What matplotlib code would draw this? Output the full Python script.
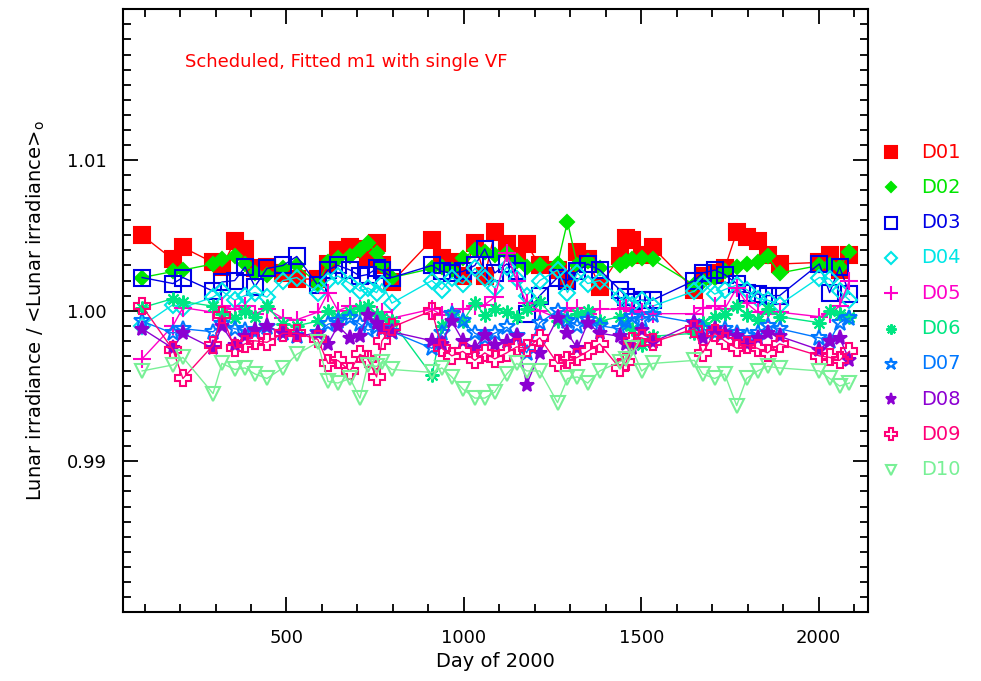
import matplotlib
matplotlib.use('Agg')
import matplotlib.pyplot as plt
from matplotlib.lines import Line2D
from matplotlib.ticker import MultipleLocator, FixedLocator, FormatStrFormatter

# observation days (shared by all detectors)
days = [93, 180, 208, 293, 318, 354, 383, 411, 445, 490,
        529, 588, 617, 645, 679, 707, 729, 754, 769, 797,
        910, 938, 966, 997, 1031, 1059, 1087, 1121, 1149, 1177,
        1214, 1264, 1292, 1320, 1349, 1383, 1439, 1458, 1473, 1501,
        1532, 1650, 1673, 1707, 1735, 1769, 1797, 1828, 1856, 1890,
        2002, 2031, 2059, 2087]

d01 = [1.0050, 1.0034, 1.0042, 1.0032, 1.0029, 1.0046, 1.0041, 1.0028, 1.0029, 1.0025,
       1.0021, 1.0021, 1.0031, 1.0040, 1.0042, 1.0041, 1.0035, 1.0045, 1.0030, 1.0019,
       1.0047, 1.0035, 1.0032, 1.0023, 1.0045, 1.0023, 1.0052, 1.0044, 1.0036, 1.0044,
       1.0030, 1.0027, 1.0021, 1.0039, 1.0034, 1.0016, 1.0036, 1.0048, 1.0047, 1.0037,
       1.0042, 1.0014, 1.0023, 1.0025, 1.0028, 1.0052, 1.0049, 1.0046, 1.0037, 1.0031,
       1.0032, 1.0037, 1.0027, 1.0037]
d02 = [1.0022, 1.0026, 1.0027, 1.0031, 1.0034, 1.0036, 1.0031, 1.0025, 1.0024, 1.0028,
       1.0030, 1.0018, 1.0032, 1.0035, 1.0036, 1.0040, 1.0045, 1.0038, 1.0030, 1.0022,
       1.0028, 1.0029, 1.0027, 1.0035, 1.0040, 1.0039, 1.0037, 1.0038, 1.0033, 1.0029,
       1.0030, 1.0031, 1.0059, 1.0030, 1.0033, 1.0028, 1.0030, 1.0033, 1.0034, 1.0035,
       1.0034, 1.0017, 1.0020, 1.0022, 1.0026, 1.0029, 1.0031, 1.0032, 1.0036, 1.0025,
       1.0030, 1.0030, 1.0029, 1.0039]
d03 = [1.0022, 1.0018, 1.0022, 1.0013, 1.0019, 1.0020, 1.0029, 1.0016, 1.0028, 1.0030,
       1.0036, 1.0017, 1.0027, 1.0030, 1.0027, 1.0023, 1.0024, 1.0028, 1.0027, 1.0022,
       1.0030, 1.0026, 1.0025, 1.0026, 1.0030, 1.0041, 1.0025, 1.0031, 1.0026, 0.9998,
       1.0010, 1.0022, 1.0020, 1.0026, 1.0031, 1.0027, 1.0014, 1.0009, 1.0006, 1.0007,
       1.0007, 1.0020, 1.0025, 1.0027, 1.0024, 1.0018, 1.0012, 1.0011, 1.0010, 1.0010,
       1.0031, 1.0012, 1.0029, 1.0011]
d04 = [0.9990, 1.0004, 1.0002, 1.0009, 1.0013, 1.0007, 1.0010, 1.0012, 1.0009, 1.0020,
       1.0022, 1.0012, 1.0020, 1.0023, 1.0018, 1.0013, 1.0015, 1.0012, 1.0018, 1.0005,
       1.0020, 1.0014, 1.0022, 1.0018, 1.0028, 1.0022, 1.0015, 1.0029, 1.0021, 1.0010,
       1.0020, 1.0027, 1.0012, 1.0025, 1.0018, 1.0020, 1.0009, 1.0005, 1.0004, 1.0007,
       1.0003, 1.0013, 1.0018, 1.0011, 1.0014, 1.0017, 1.0014, 1.0008, 1.0007, 1.0004,
       1.0022, 1.0021, 1.0013, 1.0007]
d05 = [0.9968, 0.9990, 1.0002, 0.9999, 1.0003, 1.0001, 1.0003, 0.9998, 1.0001, 0.9995,
       0.9994, 0.9999, 1.0012, 1.0000, 1.0003, 1.0001, 0.9999, 0.9997, 0.9999, 0.9995,
       1.0001, 0.9997, 0.9999, 1.0001, 1.0003, 1.0004, 1.0009, 1.0038, 1.0020, 1.0005,
       1.0000, 0.9995, 1.0000, 1.0002, 0.9998, 1.0001, 1.0001, 1.0002, 1.0000, 0.9999,
       0.9998, 0.9998, 1.0002, 1.0003, 1.0001, 1.0015, 1.0005, 0.9999, 0.9998, 0.9999,
       0.9996, 0.9998, 1.0003, 1.0020]
d06 = [1.0002, 1.0008, 1.0006, 1.0003, 0.9998, 0.9995, 1.0000, 0.9996, 1.0003, 0.9991,
       0.9990, 0.9993, 1.0000, 0.9996, 0.9999, 1.0002, 1.0003, 0.9997, 0.9995, 0.9993,
       0.9957, 0.9990, 0.9998, 0.9993, 1.0005, 0.9997, 1.0001, 0.9999, 0.9996, 1.0001,
       1.0006, 0.9993, 0.9995, 0.9998, 1.0000, 0.9993, 0.9996, 0.9991, 0.9988, 0.9977,
       0.9983, 0.9985, 0.9992, 0.9996, 0.9998, 1.0003, 0.9997, 0.9994, 1.0001, 0.9996,
       0.9992, 1.0000, 0.9998, 0.9996]
d07 = [0.9993, 0.9985, 0.9988, 0.9986, 0.9991, 0.9988, 0.9987, 0.9986, 0.9989, 0.9985,
       0.9983, 0.9985, 0.9991, 0.9993, 0.9995, 0.9991, 0.9987, 0.9989, 0.9988, 0.9986,
       0.9975, 0.9985, 0.9998, 0.9993, 0.9985, 0.9982, 0.9985, 0.9989, 0.9983, 0.9972,
       0.9992, 1.0000, 0.9993, 0.9990, 0.9994, 0.9990, 0.9988, 0.9993, 0.9996, 0.9994,
       0.9997, 0.9992, 0.9988, 0.9985, 0.9988, 0.9985, 0.9983, 0.9985, 0.9990, 0.9988,
       0.9982, 0.9980, 0.9992, 0.9995]
d08 = [0.9988, 0.9975, 0.9985, 0.9975, 0.9990, 0.9977, 0.9983, 0.9987, 0.9990, 0.9985,
       0.9983, 0.9985, 0.9978, 0.9990, 0.9982, 0.9983, 0.9997, 0.9992, 0.9988, 0.9986,
       0.9980, 0.9978, 0.9993, 0.9980, 0.9975, 0.9984, 0.9977, 0.9979, 0.9983, 0.9951,
       0.9972, 0.9995, 0.9985, 0.9975, 0.9992, 0.9985, 0.9983, 0.9978, 0.9975, 0.9987,
       0.9979, 0.9992, 0.9982, 0.9988, 0.9985, 0.9983, 0.9978, 0.9982, 0.9985, 0.9983,
       0.9974, 0.9980, 0.9982, 0.9967]
d09 = [1.0003, 0.9974, 0.9955, 0.9977, 0.9997, 0.9975, 0.9978, 0.9980, 0.9979, 0.9985,
       0.9985, 0.9981, 0.9965, 0.9967, 0.9960, 0.9971, 0.9968, 0.9956, 0.9980, 0.9989,
       1.0000, 0.9975, 0.9970, 0.9973, 0.9967, 0.9972, 0.9968, 0.9972, 0.9976, 0.9975,
       0.9982, 0.9965, 0.9967, 0.9969, 0.9973, 0.9978, 0.9962, 0.9966, 0.9980, 0.9982,
       0.9979, 0.9988, 0.9972, 0.9985, 0.9980, 0.9975, 0.9977, 0.9975, 0.9972, 0.9978,
       0.9970, 0.9969, 0.9967, 0.9973]
d10 = [0.9960, 0.9964, 0.9969, 0.9945, 0.9965, 0.9961, 0.9962, 0.9958, 0.9955, 0.9962,
       0.9971, 0.9979, 0.9953, 0.9952, 0.9955, 0.9942, 0.9964, 0.9963, 0.9966, 0.9961,
       0.9959, 0.9962, 0.9956, 0.9948, 0.9942, 0.9942, 0.9946, 0.9958, 0.9965, 0.9960,
       0.9960, 0.9939, 0.9955, 0.9956, 0.9952, 0.9960, 0.9966, 0.9968, 0.9975, 0.9960,
       0.9965, 0.9967, 0.9958, 0.9955, 0.9958, 0.9937, 0.9955, 0.9960, 0.9963, 0.9962,
       0.9960, 0.9955, 0.9950, 0.9952]

labels = ['D01', 'D02', 'D03', 'D04', 'D05', 'D06', 'D07', 'D08', 'D09', 'D10']
series = [d01, d02, d03, d04, d05, d06, d07, d08, d09, d10]

# style per detector: colour, marker, size, filled
colors = ['#ff0000', '#00e600', '#0000e6', '#00e6e6', '#ff00c8',
          '#00e682', '#0078ff', '#8c00d2', '#ff0078', '#78f096']
markers = ['s', 'D', 's', 'D', '+', (8, 2, 0), '*', '*', 'P', 'v']
msizes = [12, 7, 11, 8, 13, 10, 12, 11, 11, 10]
filled = [True, True, False, False, True, True, False, True, False, False]

fig = plt.figure(figsize=(9.81, 6.81), dpi=100)
ax = fig.add_axes([0.1257, 0.1013, 0.7594, 0.885])

for vals, c, m, ms, f in zip(series, colors, markers, msizes, filled):
    ax.plot(days, vals, color=c, lw=1.0, marker=m, ms=ms, mew=1.5,
            mfc=c if f else 'none', mec=c)

ax.set_xlim(40, 2140)
ax.set_ylim(0.98, 1.02)
ax.xaxis.set_major_locator(FixedLocator([500, 1000, 1500, 2000]))
ax.xaxis.set_minor_locator(MultipleLocator(100))
ax.yaxis.set_major_locator(FixedLocator([0.99, 1.00, 1.01]))
ax.yaxis.set_minor_locator(MultipleLocator(0.001))
ax.yaxis.set_major_formatter(FormatStrFormatter('%.2f'))
ax.tick_params(which='both', direction='in', top=True, right=True, width=1.3,
               labelsize=13, pad=12)
ax.tick_params(which='major', length=11)
ax.tick_params(which='minor', length=5.5)
for s in ax.spines.values():
    s.set_linewidth(1.5)

ax.set_xlabel('Day of 2000', fontsize=14, labelpad=4)
ax.set_ylabel(r'Lunar irradiance / <Lunar irradiance>$_{\rm o}$', fontsize=14, labelpad=14)

ax.text(0.083, 0.905, 'Scheduled, Fitted m1 with single VF', color='#ff0000',
        fontsize=13, transform=ax.transAxes)

# legend on the right
for i, (lab, c, m, ms, f) in enumerate(zip(labels, colors, markers, msizes, filled)):
    y = 1 - (152 + i * 35.3) / 681
    fig.add_artist(Line2D([891 / 981], [y], marker=m, color=c, ms=ms * 0.75, mew=1.5,
                          mfc=c if f else 'none', mec=c, ls='none'))
    fig.text(921 / 981, y, lab, color=c, fontsize=14, va='center', ha='left')

fig.savefig('out.png', dpi=100)
